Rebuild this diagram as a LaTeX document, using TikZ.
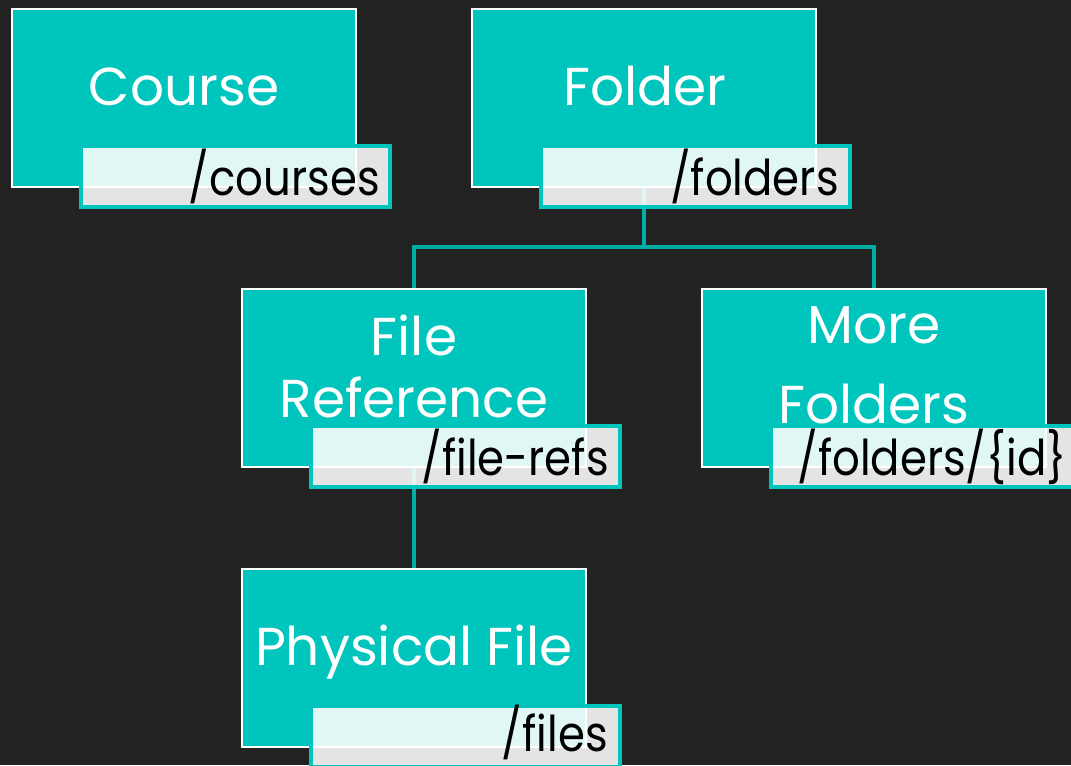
\documentclass[tikz,border=0pt]{standalone}
\usepackage{fontspec}
\setmainfont{Poppins}
\newfontfamily\lblfont[FakeStretch=0.88]{Poppins}
\definecolor{bg}{HTML}{222222}
\definecolor{teal}{HTML}{00C5BC}
\definecolor{tealline}{HTML}{00ADA5}
\tikzset{
  mainbox/.style={rectangle, draw=white, line width=1.6pt, fill=teal, minimum width=258pt, minimum height=133.5pt, inner sep=0pt},
  labelbox/.style={rectangle, draw=teal, line width=2.3pt, fill=white, fill opacity=0.88, minimum width=231.75pt, minimum height=45.75pt, inner sep=0pt},
  maintext/.style={text=white, font=\fontsize{40}{46}\selectfont, anchor=base, inner sep=0pt},
  labeltext/.style={text=black, font=\lblfont\fontsize{37}{44}\selectfont, anchor=base east, inner sep=0pt},
  conn/.style={draw=tealline, line width=2.3pt}
}
\begin{document}
\begin{tikzpicture}[x=0.75pt,y=-0.75pt]
\clip (0,0) rectangle (1071,765);
\fill[bg] (0,0) rectangle (1071,765);
% main boxes
\node[mainbox] (course) at (184,98) {};
\node[mainbox] (folder) at (644,98) {};
\node[mainbox] (fileref) at (414,378) {};
\node[mainbox] (more) at (874,378) {};
\node[mainbox] (phys) at (414,658) {};
% main texts
\node[maintext] (courseT) at (184,105) {Course};
\node[maintext] (folderT) at (645,105) {Folder};
\node[maintext] (filerefT1) at (414,355) {File};
\node[maintext] (filerefT2) at (414,417) {Reference};
\node[maintext] (moreT1) at (874,343) {More};
\node[maintext] (moreT2) at (874,423) {Folders};
\node[maintext] (physT) at (414,665) {Physical File};
% connectors
\coordinate (bus) at (644,247);
\draw[conn] (folder.south) -- (bus) -| (fileref.north);
\draw[conn] (bus) -| (more.north);
\draw[conn] (fileref.south) -- (phys.north);
% labels
\node[labelbox] (courseL) at (235.5,176.5) {};
\node[labelbox] (folderL) at (695.5,176.5) {};
\node[labelbox] (filerefL) at (465.5,456.5) {};
\node[labelbox] (moreL) at (925.5,456.5) {};
\node[labelbox] (physL) at (465.5,736.5) {};
\node[labeltext] (courseLT) at (380,195) {/courses};
\node[labeltext] (folderLT) at (839,195) {/folders};
\node[labeltext] (filerefLT) at (609,475) {/file-refs};
\node[labeltext] (moreLT) at (1067,475) {/folders/\{id\}};
\node[labeltext] (physLT) at (608,751) {/files};
\end{tikzpicture}
\end{document}
